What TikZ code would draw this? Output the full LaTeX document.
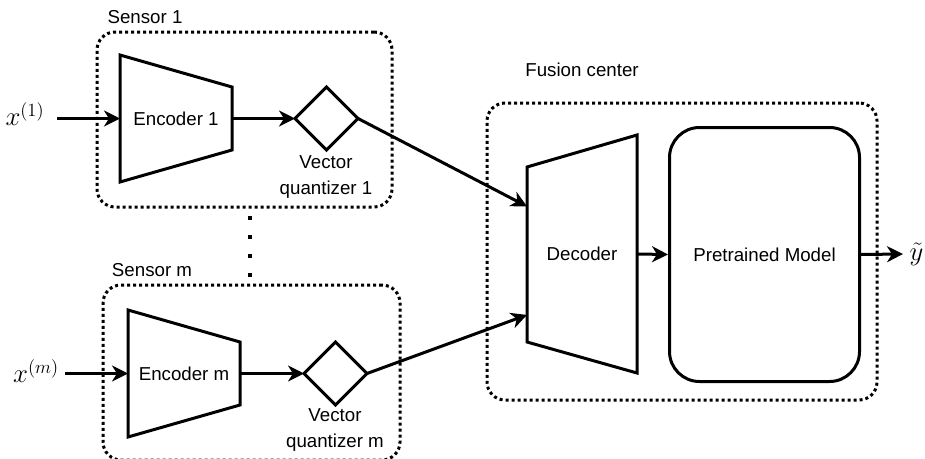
\documentclass[tikz,border=0pt]{standalone}
\usepackage{fontspec}
\setmainfont{Liberation Sans}
\usetikzlibrary{shapes.geometric,arrows.meta,calc}
\begin{document}
\begin{tikzpicture}[x=1pt,y=-1pt,
  font=\fontsize{18.7}{26}\selectfont,
  line width=3pt,
  grp/.style={draw, line width=3pt, dash pattern=on 3pt off 3pt, rounded corners=18pt, inner sep=0pt},
  arr/.style={-{Stealth[length=16pt,width=16pt,inset=5pt]}, line width=3pt},
  hull/.style={inner sep=0pt, outer sep=0pt},
  vq/.style={diamond, draw, line width=3pt, minimum width=63pt, minimum height=63pt, inner sep=0pt, outer sep=0pt},
  lbl/.style={inner sep=1pt},
  ]
\useasboundingbox (0,0) rectangle (925,458);

% groups
\node[grp, minimum width=295pt, minimum height=175pt] (s1) at (244.5,119.5) {};
\node[lbl] (s1l) at (145,17) {Sensor 1};
\node[grp, minimum width=297pt, minimum height=175pt] (sm) at (251.5,372.5) {};
\node[lbl] (sml) at (152,270) {Sensor m};
\node[grp, minimum width=390pt, minimum height=297pt] (fc) at (682,251.5) {};
\node[lbl] (fcl) at (582,70) {Fusion center};

% encoder 1
\node[hull, minimum width=112pt, minimum height=127pt] (enc1) at (176,118.5) {Encoder 1};
\draw (enc1.north west) -- ($(enc1.north east)+(0,32)$) -- ($(enc1.south east)+(0,-32)$) -- (enc1.south west) -- cycle;
\node[vq] (vq1) at (326.5,118.5) {};
\node[lbl, align=center] (vq1l) at (326,177) {Vector\\quantizer 1};

% encoder m
\node[hull, minimum width=112pt, minimum height=127pt] (encm) at (184,373.5) {Encoder m};
\draw (encm.north west) -- ($(encm.north east)+(0,32)$) -- ($(encm.south east)+(0,-32)$) -- (encm.south west) -- cycle;
\node[vq] (vqm) at (335.5,373.5) {};
\node[lbl, align=center] (vqml) at (335,430) {Vector\\quantizer m};

% decoder
\node[hull, minimum width=110pt, minimum height=238pt] (dec) at (582,254) {Decoder};
\draw ($(dec.north west)+(0,32)$) -- (dec.north east) -- (dec.south east) -- ($(dec.south west)+(0,-31)$) -- cycle;

% pretrained model
\node[draw, rounded corners=30pt, minimum width=190pt, minimum height=254pt, inner sep=0pt] (pm) at (764.5,254.5) {Pretrained Model};

% inputs / output
\node[lbl] (x1) at (25,114) {\scalebox{1.55}{$x^{(1)}$}};
\coordinate (in1) at (57,118.5);
\node[lbl] (xm) at (36,371) {\scalebox{1.55}{$x^{(m)}$}};
\coordinate (inm) at (65,373.5);
\coordinate (outy) at (903,254);
\node[lbl, anchor=west] (yt) at (907,254) {\scalebox{1.55}{$\tilde{y}$}};

% dots between sensors
\draw[line width=4pt, dash pattern=on 4pt off 15pt] (250,216) -- (250,278);

% connectors
\draw[arr] (in1) -- (enc1.west);
\draw[arr] (enc1.east) -- (vq1.west);
\draw[arr] (inm) -- (encm.west);
\draw[arr] (encm.east) -- (vqm.west);
\draw[arr] (vq1.east) -- ($(dec.north west)!0.30!(dec.south west)$);
\draw[arr] (vqm.east) -- ($(dec.north west)!0.756!(dec.south west)$);
\draw[arr] (dec.east) -- (pm.west);
\draw[arr] (pm.east) -- (outy);
\end{tikzpicture}
\end{document}
